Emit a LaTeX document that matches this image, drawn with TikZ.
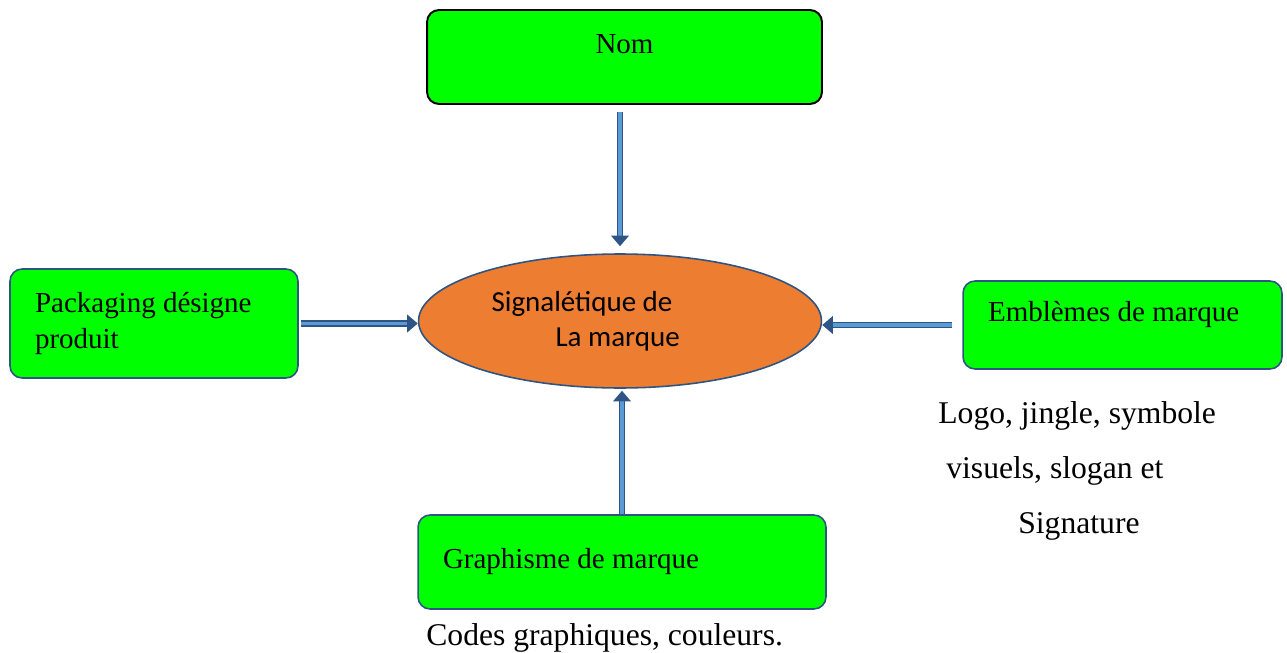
\documentclass[tikz,border=0pt]{standalone}
\usepackage{fontspec}
\setmainfont{Liberation Serif}
\newfontfamily\calibri{Carlito}
\usetikzlibrary{arrows.meta}
\usetikzlibrary{shapes.geometric}
\definecolor{vert}{RGB}{0,255,0}
\definecolor{orange1}{RGB}{237,125,49}
\definecolor{bord}{RGB}{46,84,130}
\definecolor{fl1}{RGB}{47,85,135}
\definecolor{fl2}{RGB}{91,155,213}

\begin{document}
\begin{tikzpicture} [
    x=0.02cm, y=-0.02cm,
    font=\fontsize{18}{20}\selectfont,
    boite/.style={
        fill=vert,
        draw=bord,
        line width=0.9pt,
        rounded corners=0.24cm,
        align=flush left,
        font=\fontsize{16.5}{20}\selectfont,
        inner xsep=0.5cm,
        inner ysep=0pt
    },
    f/.style={
        draw=fl1, line width=1pt,
        double=fl2, double distance=1.8pt,
        -{Triangle[length=6pt,width=10pt]}
    },
    note/.style={anchor=base west, inner sep=0pt}
]

\useasboundingbox (0,0) rectangle (1287,652);

\node [boite, draw=black, line width=1.1pt, align=center, text width=6.9cm,
    minimum height=1.88cm, text depth=0.5cm] (nom) at (624.5,57) {Nom};

\node [boite, text width=4.76cm, minimum height=2.18cm] (pack) at (154,323.5)
    {Packaging désigne\\produit};

\node [boite, text width=5.38cm, minimum height=1.76cm, text depth=0.55cm]
    (embl) at (1122.5,325) {Emblèmes de marque};

\node [boite, text width=7.16cm, minimum height=1.88cm] (graph) at (622,562)
    {Graphisme de marque};

\node [ellipse, fill=orange1, draw=bord, line width=0.9pt,
    minimum width=8.06cm, minimum height=2.68cm, inner sep=0pt,
    align=left, font=\calibri\fontsize{16.5}{20}\selectfont] (centre) at (620,321)
    {Signalétique de\hspace*{1.52cm}\\\hspace*{1.28cm}La marque};

\draw [f, shorten <=0.14cm, shorten >=0.14cm] (centre.north |- nom.south) -- (centre.north);
\draw [f, shorten <=0.04cm] (pack.east) -- (pack.east -| centre.west);
\draw [f, shorten <=0.2cm] (embl.west) -- (embl.west -| centre.east);
\draw [f, shorten >=0.04cm] (graph.north) -- (graph.north |- centre.south);

\node [note] (logo) at (938,423) {Logo, jingle, symbole};
\node [note] (visu) at (946,478) {visuels, slogan et};
\node [note] (sign) at (1018,533) {Signature};
\node [note] (codes) at (426,645) {Codes graphiques, couleurs.};

\end{tikzpicture}
\end{document}
